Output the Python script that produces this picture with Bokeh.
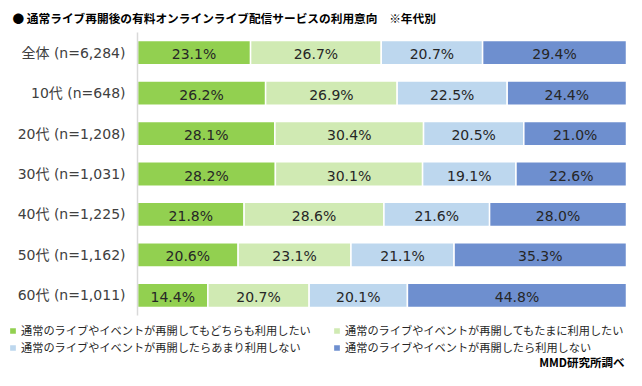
from bokeh.plotting import figure
from bokeh.models import ColumnDataSource, Range1d, FactorRange, Legend, LegendItem, Label
from bokeh.core.properties import value
from bokeh.embed import file_html
from bokeh.resources import INLINE

categories = ["全体 (n=6,284)", "10代 (n=648)", "20代 (n=1,208)", "30代 (n=1,031)",
              "40代 (n=1,225)", "50代 (n=1,162)", "60代 (n=1,011)"]
series_names = ["通常のライブやイベントが再開してもどちらも利用したい",
                "通常のライブやイベントが再開してもたまに利用したい",
                "通常のライブやイベントが再開したらあまり利用しない",
                "通常のライブやイベントが再開したら利用しない"]
s1 = [23.1, 26.2, 28.1, 28.2, 21.8, 20.6, 14.4]
s2 = [26.7, 26.9, 30.4, 30.1, 28.6, 23.1, 20.7]
s3 = [20.7, 22.5, 20.5, 19.1, 21.6, 21.1, 20.1]
s4 = [29.4, 24.4, 21.0, 22.6, 28.0, 35.3, 44.8]
colors = ["#92D050", "#D0EAB3", "#BDD7EE", "#6E8FCF"]
title_text = "●    通常ライブ再開後の有料オンラインライブ配信サービスの利用意向　※年代別"
credit_text = "MMD研究所調べ"

LATIN = "DejaVu Sans, Noto Sans CJK JP"
CJK = "Noto Sans CJK JP"

series = [s1, s2, s3, s4]
totals = [sum(v) for v in zip(*series)]

# ---- main chart ----
p = figure(width=626, height=318, output_backend="svg", toolbar_location=None,
           y_range=FactorRange(*reversed(categories)), x_range=Range1d(0, 100),
           min_border_left=137, min_border_right=0, min_border_top=32, min_border_bottom=3)
p.outline_line_color = None
p.xaxis.visible = False
p.xgrid.grid_line_color = None
p.ygrid.grid_line_color = None
p.yaxis.axis_line_color = "#D9D9D9"
p.yaxis.axis_line_width = 1.5
p.yaxis.major_tick_line_color = None
p.yaxis.minor_tick_line_color = None
p.yaxis.major_tick_out = 0
p.yaxis.major_tick_in = 0
p.yaxis.major_label_standoff = 12
p.yaxis.major_label_text_font = LATIN
p.yaxis.major_label_text_font_size = "14px"
p.yaxis.major_label_text_color = "#404040"

p.title.text = title_text
p.title.align = "left"
p.title.offset = -125
p.title.standoff = 13
p.title.text_font = CJK
p.title.text_font_size = "11.7px"
p.title.text_font_style = "bold"
p.title.text_color = "#000000"

left = [0.0] * len(categories)
for vals, col in zip(series, colors):
    shares = [v / t * 100 for v, t in zip(vals, totals)]
    right = [l + s for l, s in zip(left, shares)]
    src = ColumnDataSource(dict(y=categories, left=left, right=right,
                                mid=[(l + r) / 2 for l, r in zip(left, right)],
                                lab=[f"{v:.1f}%" for v in vals]))
    p.hbar(y="y", left="left", right="right", height=0.6, source=src,
           fill_color=col, line_color="white", line_width=1.5)
    p.text(x="mid", y="y", text="lab", source=src, text_align="center",
           text_baseline="middle", y_offset=1.5, text_font=value(LATIN),
           text_font_size="14px", text_color="#262626")
    left = right

# ---- legend + credit strip (separate root, so its frame is not aligned to the chart's) ----
LW, LH = 626, 52
lf = figure(width=LW, height=LH, output_backend="svg", toolbar_location=None,
            x_range=Range1d(0, LW), y_range=Range1d(0, LH),
            min_border_left=0, min_border_right=0, min_border_top=0, min_border_bottom=0)
lf.outline_line_color = None
lf.axis.visible = False
lf.grid.grid_line_color = None

legend_renderers = []
for vals, col in zip(series, colors):
    proxy = ColumnDataSource(dict(y=list(range(len(vals))), left=[0] * len(vals), right=vals))
    r = lf.hbar(y="y", left="left", right="right", height=0.5, source=proxy,
                fill_color=col, line_color="white", line_width=1.5)
    r.visible = False
    legend_renderers.append(r)

def make_legend(idx, x, y):
    lg = Legend(items=[LegendItem(label=series_names[i], renderers=[legend_renderers[i]]) for i in idx],
                location=(x, y), orientation="vertical", margin=0, padding=0, spacing=1,
                glyph_width=9, glyph_height=9, label_height=15, label_standoff=4,
                label_text_font=CJK, label_text_font_size="11.2px", label_text_color="#262626",
                inactive_fill_alpha=0, border_line_alpha=0, background_fill_alpha=0)
    lf.add_layout(lg, "center")

make_legend([0, 2], 8, 15)
make_legend([1, 3], 332, 15)

lf.add_layout(Label(x=624, y=8.5, text=credit_text, text_align="right", text_baseline="middle",
                    text_font=CJK, text_font_size="11.5px", text_font_style="bold",
                    text_color="#000000"))

open("out.html", "w").write(file_html([p, lf], INLINE))
